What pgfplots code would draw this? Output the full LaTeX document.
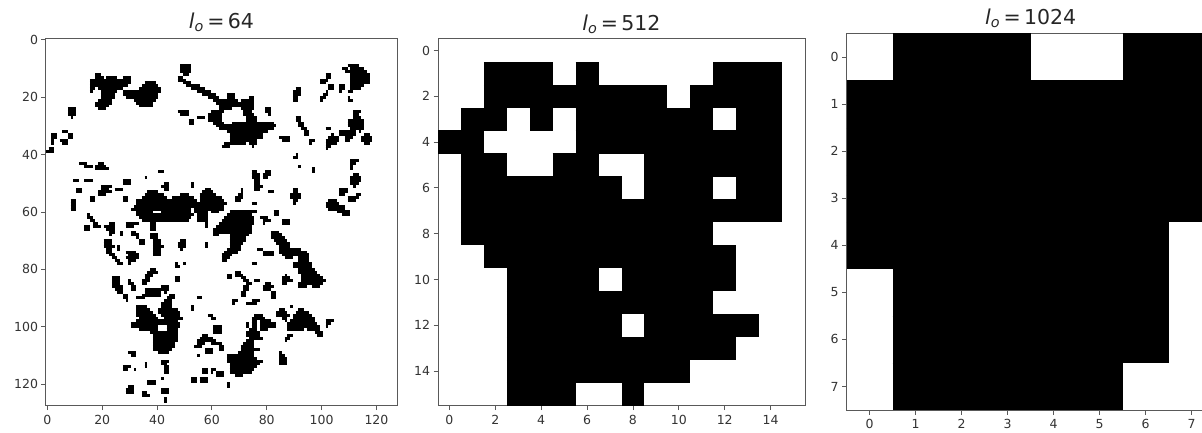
\documentclass[border=0pt]{standalone}
\usepackage{pgfplots}
\usepackage{pgfplotstable}
\usepackage{fontspec}
\setmainfont{DejaVu Sans}
\pgfplotsset{compat=1.18}
\pgfplotstableread[row sep=\\]{
s r e\\
18 12 19\\ 18 13 20\\ 22 13 25\\ 28 13 30\\ 16 14 30\\ 16 15 30\\ 36 15 39\\ 16 16 29\\ 35 16 40\\
16 17 17\\ 19 17 27\\ 34 17 41\\ 16 18 16\\ 20 18 25\\ 28 18 41\\ 20 19 24\\ 28 19 40\\ 20 20 24\\ 29 20 40\\
19 21 23\\ 32 21 39\\ 18 22 23\\ 33 22 38\\ 18 23 22\\ 34 23 38\\ 19 24 21\\
49 9 52\\ 49 10 52\\ 49 11 52\\ 50 12 51\\
48 13 49\\ 48 14 50\\ 50 15 52\\ 51 16 55\\ 53 17 57\\ 55 18 59\\ 57 19 61\\ 66 19 68\\ 59 20 62\\ 66 20 68\\ 74 20 75\\
61 21 69\\ 71 21 75\\ 62 22 75\\ 63 23 75\\ 63 24 67\\ 71 24 75\\ 80 24 81\\ 60 25 64\\ 72 25 74\\ 80 25 81\\
59 26 63\\ 72 26 75\\ 81 26 81\\ 55 27 57\\ 59 27 63\\ 73 27 76\\ 59 28 63\\ 73 28 76\\ 61 29 64\\ 68 29 82\\ 62 30 83\\ 63 31 82\\
66 32 80\\ 67 33 78\\ 67 34 78\\ 67 35 76\\ 65 36 72\\ 74 36 76\\ 64 37 66\\ 75 37 75\\
48 25 51\\ 49 26 51\\ 52 28 53\\ 52 29 53\\
8 24 10\\ 8 25 10\\ 8 26 10\\ 9 27 9\\ 6 32 7\\ 8 33 9\\ 8 34 9\\ 2 33 3\\ 2 34 3\\ 2 35 2\\ 2 36 2\\ 5 35 7\\ 6 36 7\\ 1 38 2\\ 0 39 2\\
12 43 14\\ 14 44 16\\ 19 43 20\\ 18 44 21\\ 18 45 22\\ 10 49 11\\ 14 49 16\\ 36 48 36\\ 41 46 42\\ 28 49 30\\ 28 50 30\\
43 50 44\\ 42 51 44\\ 43 52 44\\ 53 50 53\\ 53 51 53\\ 25 52 27\\ 11 52 12\\ 11 53 12\\
20 51 23\\ 20 52 22\\ 19 53 23\\ 19 54 21\\ 16 55 17\\ 16 56 17\\ 28 55 29\\ 28 56 29\\ 9 56 10\\ 9 57 10\\ 9 58 10\\ 9 59 10\\
58 52 59\\ 37 53 40\\ 57 53 60\\ 36 54 42\\ 49 54 51\\ 56 54 61\\ 35 55 43\\ 46 55 53\\ 56 55 63\\ 33 56 54\\ 56 56 64\\ 33 57 65\\ 32 58 64\\
31 59 52\\ 54 59 64\\ 33 60 38\\ 42 60 52\\ 54 60 58\\ 60 60 62\\ 33 61 53\\ 55 61 58\\ 34 62 52\\ 55 62 58\\ 35 63 46\\ 47 63 51\\ 55 63 58\\
38 64 39\\ 38 65 39\\ 38 66 39\\
85 34 88\\ 86 35 88\\ 91 17 92\\ 90 18 92\\ 90 19 92\\ 90 20 91\\ 90 21 91\\
91 27 92\\ 91 28 92\\ 92 29 93\\ 92 30 93\\ 93 31 94\\ 94 32 95\\ 94 33 95\\ 96 35 97\\ 96 36 96\\ 91 40 91\\ 90 41 91\\ 92 44 92\\ 97 45 97\\ 97 46 97\\
102 12 103\\ 102 13 103\\ 100 14 102\\ 100 15 101\\ 103 16 104\\ 103 17 104\\ 102 18 102\\ 101 19 102\\ 100 20 101\\ 100 21 100\\
107 16 108\\ 107 17 108\\ 107 18 107\\ 110 20 110\\ 110 21 111\\
110 9 113\\ 108 10 109\\ 111 10 115\\ 109 11 116\\ 111 12 117\\ 111 13 117\\ 111 14 117\\ 111 15 117\\ 111 16 115\\ 111 17 114\\ 110 18 111\\
112 25 114\\ 112 26 113\\ 112 27 114\\ 110 28 115\\ 110 29 115\\ 110 30 115\\ 111 31 115\\ 107 32 112\\ 114 32 114\\ 107 33 112\\ 109 34 111\\ 109 35 110\\
104 33 104\\ 103 34 106\\ 102 35 106\\ 102 36 105\\ 102 37 103\\ 102 38 102\\ 102 31 103\\ 116 33 117\\ 115 34 118\\ 115 35 118\\ 116 36 117\\
111 42 113\\ 111 43 112\\ 111 44 111\\ 111 45 111\\ 112 47 113\\ 111 48 114\\ 111 49 114\\ 111 50 113\\ 112 51 112\\
107 52 109\\ 107 53 109\\ 107 54 108\\ 113 54 114\\ 110 55 113\\ 110 56 112\\ 103 56 105\\ 102 57 106\\ 102 58 108\\ 103 59 108\\ 106 60 110\\ 108 61 110\\
90 52 91\\ 90 53 91\\ 89 54 92\\ 89 55 92\\ 90 56 91\\ 90 57 90\\ 81 53 82\\ 71 52 71\\ 71 53 71\\ 70 54 71\\ 69 55 71\\ 69 56 70\\
75 46 76\\ 75 47 77\\ 75 48 77\\ 76 49 77\\ 76 50 77\\ 76 51 78\\ 76 52 77\\ 80 46 81\\ 79 47 81\\ 79 48 80\\ 75 57 76\\ 73 60 76\\ 83 60 84\\ 83 61 84\\
15 61 15\\ 15 62 16\\ 16 63 17\\ 17 64 18\\ 17 65 19\\ 14 65 15\\ 14 66 15\\ 23 64 24\\ 21 65 24\\ 22 66 24\\ 23 67 24\\ 23 68 23\\ 27 67 27\\ 27 68 27\\
29 64 33\\ 29 65 31\\ 31 67 32\\ 31 68 33\\ 33 69 33\\ 34 70 35\\ 34 71 35\\ 21 70 23\\ 21 71 23\\ 21 72 24\\ 22 73 23\\ 22 74 23\\ 23 75 24\\ 26 72 26\\ 26 73 26\\
24 76 25\\ 25 77 26\\ 26 78 27\\ 29 74 32\\ 30 75 33\\ 29 76 33\\ 30 77 32\\ 30 78 30\\
38 68 40\\ 38 69 40\\ 39 70 41\\ 39 71 41\\ 39 72 42\\ 39 73 41\\ 39 74 41\\ 39 75 41\\ 49 70 50\\ 48 71 50\\ 48 72 50\\ 49 73 49\\ 58 71 58\\ 58 72 58\\ 58 64 58\\ 58 65 58\\
61 67 63\\ 61 68 62\\ 47 78 47\\ 50 78 50\\ 47 79 48\\ 47 83 48\\ 47 84 48\\ 40 81 40\\ 38 80 39\\ 37 81 39\\ 36 82 38\\ 36 83 37\\ 35 84 37\\ 35 85 36\\
24 83 26\\ 24 84 26\\ 24 85 26\\ 24 86 27\\ 25 87 27\\ 26 88 27\\ 30 84 30\\ 30 85 31\\ 31 86 32\\ 31 87 32\\ 36 87 39\\ 36 88 39\\ 35 89 39\\ 33 90 35\\
40 87 41\\ 40 88 41\\ 40 89 41\\ 42 86 44\\ 42 87 44\\ 43 88 43\\ 28 89 29\\ 28 90 29\\ 29 91 29\\ 45 89 46\\ 44 90 46\\
43 91 45\\ 42 92 45\\ 33 93 36\\ 42 93 45\\ 33 94 37\\ 41 94 47\\ 33 95 38\\ 41 95 48\\ 33 96 39\\ 42 96 48\\ 34 97 40\\ 43 97 49\\ 33 98 42\\ 43 98 47\\
31 99 48\\ 31 100 40\\ 44 100 48\\ 34 101 40\\ 44 101 47\\ 38 102 47\\ 39 103 47\\ 39 104 47\\ 39 105 47\\ 39 106 46\\ 39 107 46\\ 39 108 45\\ 41 109 44\\
30 109 32\\ 31 110 32\\ 42 112 44\\ 42 113 43\\ 43 114 44\\ 43 115 44\\ 43 116 44\\ 36 113 36\\ 36 114 36\\ 28 114 30\\ 28 115 29\\ 32 115 32\\ 42 118 42\\
37 119 39\\ 37 120 39\\ 30 121 31\\ 29 122 31\\ 29 123 31\\ 35 123 36\\ 35 124 36\\ 37 124 37\\ 42 122 44\\ 42 123 44\\ 43 125 43\\ 43 126 43\\
55 90 56\\ 53 93 53\\ 53 94 53\\ 59 96 60\\ 60 97 61\\ 57 103 58\\ 56 104 60\\ 55 105 61\\ 55 106 57\\ 60 106 63\\ 54 107 56\\ 61 100 63\\ 61 101 63\\ 61 102 63\\
58 108 60\\ 58 109 60\\ 55 110 55\\ 57 115 58\\ 57 116 58\\ 60 115 61\\ 60 116 60\\ 62 116 64\\ 62 117 64\\ 53 118 54\\ 53 119 54\\ 56 118 58\\ 56 119 58\\ 66 120 66\\ 66 121 66\\ 63 107 64\\ 63 108 64\\
67 60 72\\ 66 61 74\\ 65 62 75\\ 64 63 75\\ 63 64 75\\ 62 65 74\\ 61 66 74\\ 61 67 68\\ 69 67 74\\ 61 68 62\\ 67 68 73\\ 67 69 72\\ 67 70 72\\ 67 71 71\\ 67 72 70\\ 66 73 70\\ 65 74 69\\ 64 75 67\\ 64 76 66\\ 64 77 65\\
78 62 80\\ 79 63 81\\ 79 64 79\\ 86 63 88\\ 86 64 88\\
82 67 84\\ 82 68 85\\ 82 69 86\\ 83 70 87\\ 84 71 88\\ 85 72 88\\ 85 73 92\\ 85 74 94\\ 86 75 95\\ 87 76 89\\ 92 76 95\\ 92 77 95\\ 90 78 96\\ 90 79 96\\ 92 80 97\\ 92 81 98\\ 93 82 99\\ 93 83 100\\ 93 84 101\\ 92 85 100\\ 92 86 94\\ 97 86 99\\
79 74 82\\ 79 75 82\\ 77 73 78\\ 75 78 76\\ 69 81 70\\ 69 82 71\\ 66 82 67\\ 66 83 67\\ 71 83 72\\ 72 84 73\\ 73 85 74\\ 72 86 73\\ 72 87 73\\ 71 88 72\\ 71 89 72\\ 76 84 77\\
80 85 81\\ 79 86 82\\ 79 87 81\\ 82 88 83\\ 82 89 83\\ 82 90 83\\ 68 91 69\\ 68 92 68\\ 75 91 77\\ 73 92 76\\ 87 82 87\\ 86 83 88\\ 86 84 89\\ 86 85 87\\ 89 93 89\\
85 94 86\\ 84 95 87\\ 84 96 88\\ 86 97 87\\ 87 98 87\\
76 96 78\\ 75 97 79\\ 75 98 76\\ 78 98 81\\ 75 99 76\\ 78 99 83\\ 73 99 73\\ 73 100 73\\ 75 100 76\\ 78 100 83\\ 74 101 76\\ 78 101 80\\ 73 102 77\\ 73 103 77\\ 74 104 78\\ 73 105 75\\ 72 106 75\\ 71 107 75\\ 71 108 77\\ 70 109 75\\ 66 110 75\\ 66 111 76\\ 66 112 78\\ 67 113 77\\ 67 114 76\\ 67 115 75\\ 67 116 74\\ 69 117 71\\
85 109 85\\ 85 110 86\\ 85 111 87\\ 85 112 87\\ 85 113 87\\ 88 103 89\\ 87 104 88\\ 87 105 87\\
92 94 93\\ 91 95 95\\ 90 96 96\\ 90 97 97\\ 89 98 97\\ 88 99 98\\ 88 100 99\\ 88 101 93\\ 95 101 99\\ 98 102 100\\ 99 103 100\\ 102 98 104\\ 102 99 103\\ 102 100 102\\
}\dataA
\pgfplotstableread[row sep=\\]{
s r e\\
2 1 4\\ 6 1 6\\ 12 1 14\\ 2 2 9\\ 11 2 14\\ 1 3 2\\ 4 3 4\\ 6 3 11\\ 13 3 14\\ 0 4 1\\ 6 4 14\\ 1 5 2\\ 5 5 6\\ 9 5 14\\ 1 6 7\\ 9 6 11\\ 13 6 14\\ 1 7 14\\ 1 8 11\\ 2 9 12\\ 3 10 6\\ 8 10 12\\ 3 11 11\\ 3 12 7\\ 9 12 13\\ 3 13 12\\ 3 14 10\\ 3 15 5\\ 8 15 8\\
}\dataB
\pgfplotstableread[row sep=\\]{
s r e\\
1 0 3\\ 6 0 7\\ 0 1 7\\ 0 2 7\\ 0 3 7\\ 0 4 6\\ 1 5 6\\ 1 6 6\\ 1 7 5\\
}\dataC
\pgfplotsset{
  base/.style={
    scale only axis, anchor=south west, y dir=reverse,
    tick align=outside, tick pos=left,
    axis line style={black!65,line width=1pt},
    major tick length=4.5pt,
    tick style={black!65,line width=0.9pt},
    tick label style={font=\fontsize{12.5}{14}\selectfont, text=black!80},
    /pgf/number format/assume math mode=true,
    x tick label style={yshift=-1.5pt},
    title style={font=\fontsize{20.5}{24}\selectfont, text=black!85, anchor=south},
  }
}
\begin{document}
\begin{tikzpicture}[x=1pt,y=1pt]
\path[use as bounding box,clip] (0,0) rectangle (1202,433);
\begin{axis}[base, at={(46pt,27.5pt)}, width=351pt, height=367pt,
  xmin=-0.5, xmax=127.5, ymin=-0.5, ymax=127.5,
  xtick={0,20,...,120}, ytick={0,20,...,120},
  title={{\itshape l}\textsubscript{\itshape o}\,=\,64}, title style={yshift=-3pt}]
\addplot[black,line width=3pt,quiver={u=\thisrow{e}-\thisrow{s}+1,v=0}] table[x expr=\thisrow{s}-0.5,y=r] {\dataA};
\end{axis}
\begin{axis}[base, at={(438pt,27.5pt)}, width=367pt, height=366.5pt,
  xmin=-0.5, xmax=15.5, ymin=-0.5, ymax=15.5,
  xtick={0,2,...,14}, ytick={0,2,...,14},
  title={{\itshape l}\textsubscript{\itshape o}\,=\,512}, title style={yshift=-4pt}]
\addplot[black,line width=23.2pt,quiver={u=\thisrow{e}-\thisrow{s}+1,v=0}] table[x expr=\thisrow{s}-0.5,y=r] {\dataB};
\end{axis}
\begin{axis}[base, at={(846.7pt,23pt)}, width=368pt, height=376.5pt,
  xmin=-0.5, xmax=7.5, ymin=-0.5, ymax=7.5,
  xtick={0,...,7}, ytick={0,...,7},
  title={{\itshape l}\textsubscript{\itshape o}\,=\,1024}, title style={yshift=-4pt}]
\addplot[black,line width=47.3pt,quiver={u=\thisrow{e}-\thisrow{s}+1,v=0}] table[x expr=\thisrow{s}-0.5,y=r] {\dataC};
\end{axis}
\end{tikzpicture}
\end{document}
